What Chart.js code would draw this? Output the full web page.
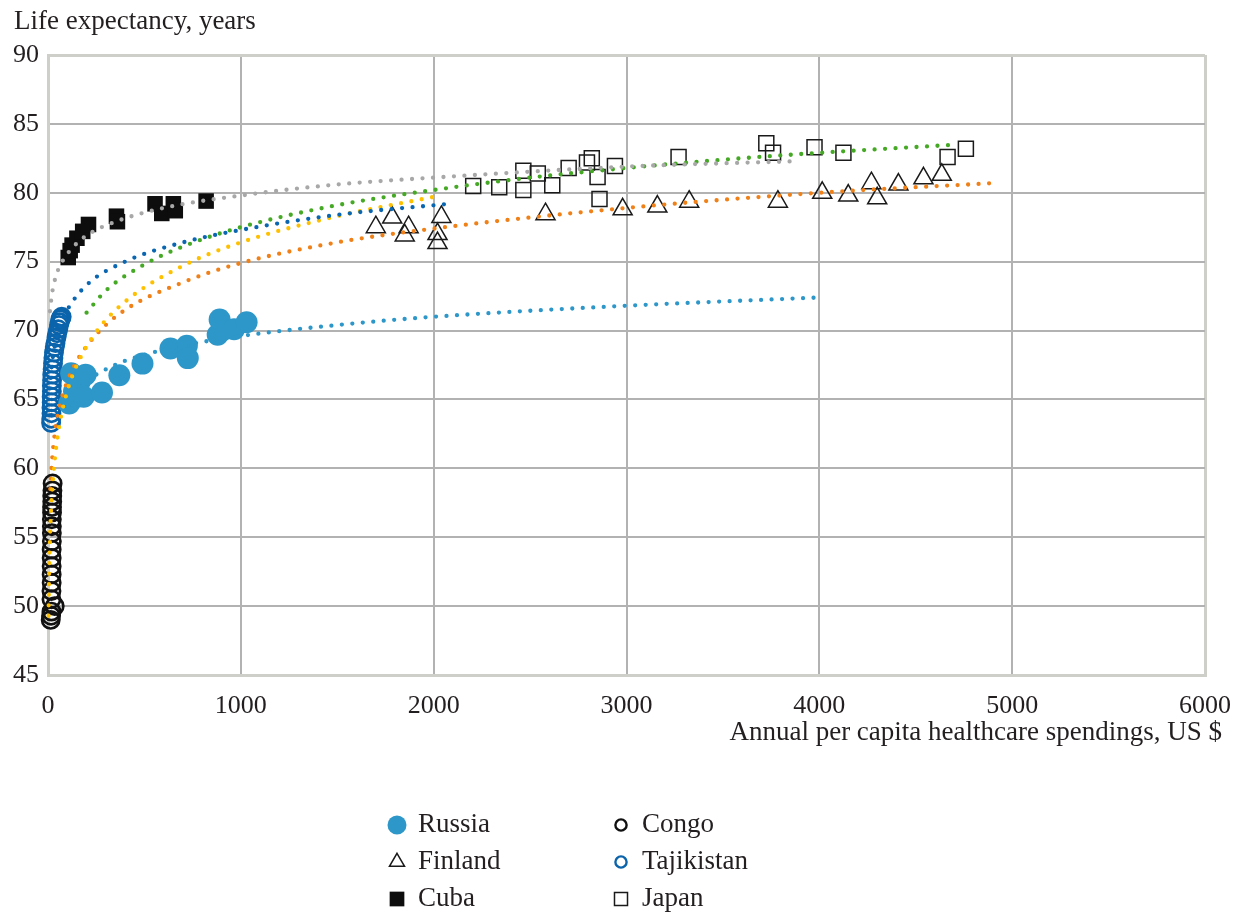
<!DOCTYPE html>
<html>
<head>
<meta charset="utf-8">
<script src="https://cdn.jsdelivr.net/npm/chart.js@4.4.0/dist/chart.umd.min.js"></script>
<style>
  html, body { margin: 0; padding: 0; background: #fff; }
  #wrap { width: 1238px; height: 912px; }
</style>
</head>
<body>
<div id="wrap"><canvas id="myChart"></canvas></div>
<script>
// ---- data ----
var countries = ['Russia', 'Finland', 'Cuba', 'Congo', 'Tajikistan', 'Japan'];

var russiaX = [110, 120, 135, 150, 165, 185, 195, 280, 370, 490, 635, 720, 725, 880, 890, 965, 1030];
var russiaY = [64.7, 66.9, 65.6, 65.2, 66.3, 65.2, 66.8, 65.5, 66.75, 67.6, 68.7, 68.9, 68.0, 69.7, 70.8, 70.1, 70.6];

var finlandX = [1700, 1785, 1850, 1870, 2020, 2020, 2040, 2580, 2980, 3160, 3325, 3785, 4015, 4150, 4270, 4300, 4410, 4540, 4635];
var finlandY = [77.5, 78.2, 76.9, 77.5, 77.0, 76.35, 78.25, 78.45, 78.8, 79.0, 79.35, 79.35, 80.0, 79.8, 80.7, 79.6, 80.6, 81.05, 81.3];

var cubaX = [105, 115, 125, 150, 180, 210, 355, 360, 555, 590, 650, 660, 820];
var cubaY = [75.3, 75.8, 76.2, 76.7, 77.2, 77.7, 78.3, 77.9, 79.2, 78.5, 79.2, 78.7, 79.4];

var congoX = [14, 16, 18, 35, 18, 18, 19, 19, 19, 19, 19, 20, 20, 20, 20, 21, 21, 22, 22, 23, 24];
var congoY = [49.0, 49.3, 49.6, 50.0, 50.5, 51.1, 51.7, 52.3, 52.9, 53.5, 54.1, 54.7, 55.3, 55.8, 56.3, 56.8, 57.2, 57.6, 58.0, 58.4, 58.9];

var tajikX = [16, 17, 18, 18, 19, 19, 20, 20, 21, 22, 24, 26, 28, 31, 35, 39, 44, 48, 53, 57, 61, 64, 67, 71];
var tajikY = [63.3, 63.6, 64.0, 64.4, 64.8, 65.2, 65.6, 66.0, 66.4, 66.8, 67.2, 67.6, 68.0, 68.4, 68.8, 69.1, 69.5, 69.8, 70.1, 70.4, 70.6, 70.8, 70.9, 71.0];

var japanX = [2205, 2340, 2465, 2465, 2540, 2615, 2700, 2795, 2820, 2850, 2860, 2940, 3270, 3725, 3760, 3975, 4125, 4665, 4760];
var japanY = [80.5, 80.4, 81.6, 80.2, 81.4, 80.55, 81.8, 82.2, 82.5, 81.15, 79.55, 81.95, 82.6, 83.6, 82.9, 83.3, 82.9, 82.6, 83.2];

// trend lines (dotted)
var russiaTrendX = [90, 150, 250, 400, 700, 1000, 1500, 2000, 3000, 4000];
var russiaTrendY = [64.8, 65.8, 66.8, 67.8, 68.9, 69.6, 70.4, 71.0, 71.8, 72.4];

var finlandTrendX = [12, 20, 35, 60, 100, 150, 250, 400, 700, 1000, 1500, 2000, 3000, 4000, 4900];
var finlandTrendY = [58.5, 60.4, 62.5, 64.5, 66.3, 67.8, 69.7, 71.5, 73.5, 74.9, 76.4, 77.4, 78.9, 80.0, 80.7];

var cubaTrendX = [10, 20, 40, 70, 120, 200, 350, 600, 1000, 1500, 2000, 3000, 3900];
var cubaTrendY = [71.4, 72.6, 73.9, 74.9, 75.9, 76.9, 77.9, 78.9, 79.8, 80.6, 81.1, 81.9, 82.3];

var congoTrendX = [3, 5, 8, 12, 20, 35, 60, 100, 150, 250, 400, 700, 1000, 1500, 2000];
var congoTrendY = [49.3, 51.7, 53.7, 55.6, 58.0, 60.6, 63.2, 65.6, 67.5, 69.9, 72.1, 74.7, 76.4, 78.3, 79.7];

var tajikTrendX = [10, 20, 40, 70, 100, 200, 400, 700, 1000, 1500, 2080];
var tajikTrendY = [65.8, 67.5, 69.2, 70.6, 71.5, 73.3, 75.0, 76.4, 77.3, 78.4, 79.2];

var japanTrendX = [200, 300, 500, 700, 1000, 1500, 2000, 2500, 3000, 3500, 4000, 4720];
var japanTrendY = [71.3, 72.9, 74.8, 76.1, 77.5, 79.1, 80.2, 81.1, 81.8, 82.4, 82.9, 83.5];

var xTicks = [0, 1000, 2000, 3000, 4000, 5000, 6000];
var yTicks = [45, 50, 55, 60, 65, 70, 75, 80, 85, 90];
var yTitle = 'Life expectancy, years';
var xTitle = 'Annual per capita healthcare spendings, US $';

// ---- helpers ----
function pts(xs, ys) {
    return xs.map(function (x, i) { return { x: x, y: ys[i] }; });
}

var serif = '"Liberation Serif", "Times New Roman", serif';
var textColor = '#231f20';

function trend(xs, ys, color) {
    return {
        type: 'line',
        data: pts(xs, ys),
        borderColor: color,
        borderWidth: 4.3,
        borderDash: [0, 10.5],
        borderCapStyle: 'round',
        pointRadius: 0,
        fill: false,
        clip: false,
        cubicInterpolationMode: 'monotone',
        order: 0
    };
}

var markers = [
    { label: countries[0], data: pts(russiaX, russiaY), pointStyle: 'circle', pointRadius: 11, backgroundColor: '#2e97c9', borderColor: '#2e97c9', borderWidth: 0, legendRadius: 9.5 },
    { label: countries[1], data: pts(finlandX, finlandY), pointStyle: 'triangle', pointRadius: 11, backgroundColor: 'rgba(0,0,0,0)', borderColor: '#1a1a1a', borderWidth: 1.5, legendRadius: 8.7 },
    { label: countries[2], data: pts(cubaX, cubaY), pointStyle: 'rect', pointRadius: 11, backgroundColor: '#0d0d0d', borderColor: '#0d0d0d', borderWidth: 0, legendRadius: 10.4 },
    { label: countries[3], data: pts(congoX, congoY), pointStyle: 'circle', pointRadius: 8.6, backgroundColor: 'rgba(0,0,0,0)', borderColor: '#111111', borderWidth: 2.7, legendRadius: 5.6 },
    { label: countries[4], data: pts(tajikX, tajikY), pointStyle: 'circle', pointRadius: 8.6, backgroundColor: 'rgba(0,0,0,0)', borderColor: '#0b64ab', borderWidth: 2.7, legendRadius: 5.6 },
    { label: countries[5], data: pts(japanX, japanY), pointStyle: 'rect', pointRadius: 10.6, backgroundColor: 'rgba(0,0,0,0)', borderColor: '#1a1a1a', borderWidth: 1.5, legendRadius: 9.2 }
];

var datasets = markers.map(function (m) {
    return {
        type: 'scatter',
        label: m.label,
        data: m.data,
        pointStyle: m.pointStyle,
        pointRadius: m.pointRadius,
        pointHoverRadius: m.pointRadius,
        backgroundColor: m.backgroundColor,
        borderColor: m.borderColor,
        borderWidth: m.borderWidth,
        clip: false,
        order: 1
    };
});

datasets.push(trend(cubaTrendX, cubaTrendY, '#a8a8a8'));
datasets.push(trend(tajikTrendX, tajikTrendY, '#0a66b0'));
datasets.push(trend(japanTrendX, japanTrendY, '#46a925'));
datasets.push(trend(congoTrendX, congoTrendY, '#ffc000'));
datasets.push(trend(finlandTrendX, finlandTrendY, '#f08018'));
datasets.push(trend(russiaTrendX, russiaTrendY, '#2e97c9'));

// titles and the two-column legend are painted on the canvas
var extras = {
    id: 'extras',
    afterDraw: function (chart) {
        var ctx = chart.ctx;
        ctx.save();
        ctx.fillStyle = textColor;
        ctx.font = '27px ' + serif;
        ctx.textBaseline = 'middle';
        ctx.textAlign = 'left';
        ctx.fillText(yTitle, 14, 22);
        ctx.textAlign = 'right';
        ctx.fillText(xTitle, 1222, 733);

        // legend: column-major, 3 rows
        var colX = [397, 621];
        var rowY = [825, 862, 899];
        ctx.textAlign = 'left';
        markers.forEach(function (m, i) {
            var cx = colX[Math.floor(i / 3)];
            var cy = rowY[i % 3];
            ctx.save();
            ctx.fillStyle = m.backgroundColor;
            ctx.strokeStyle = m.borderColor;
            ctx.lineWidth = m.borderWidth > 2 ? 2.4 : m.borderWidth;
            Chart.helpers.drawPoint(ctx, {
                pointStyle: m.pointStyle,
                radius: m.legendRadius,
                borderWidth: m.borderWidth,
                rotation: 0
            }, cx, cy);
            ctx.restore();
            ctx.fillStyle = textColor;
            ctx.fillText(m.label, cx + 21, cy);
        });
        ctx.restore();
    }
};

var gridEdge = '#cfcfca';
var gridMid = '#b2b2b2';

var ctx = document.getElementById('myChart').getContext('2d');
var chart = new Chart(ctx, {
    data: { datasets: datasets },
    plugins: [extras],
    options: {
        responsive: true,
        maintainAspectRatio: false,
        animation: false,
        layout: { padding: { left: 0, top: 55, right: 33, bottom: 0 } },
        plugins: {
            legend: { display: false },
            tooltip: { enabled: false }
        },
        scales: {
            x: {
                type: 'linear',
                min: 0,
                max: 6000,
                afterBuildTicks: function (s) { s.ticks = xTicks.map(function (v) { return { value: v }; }); },
                afterFit: function (s) { s.height = 237; s.paddingLeft = 0; s.paddingRight = 0; },
                ticks: {
                    color: textColor,
                    font: { family: serif, size: 26 },
                    padding: 16,
                    maxRotation: 0,
                    callback: function (v) { return String(v); }
                },
                grid: {
                    drawTicks: false,
                    color: function (c) { return (c.index === 0 || c.index === xTicks.length - 1) ? gridEdge : gridMid; },
                    lineWidth: function (c) { return (c.index === 0 || c.index === xTicks.length - 1) ? 3 : 2; }
                },
                border: { color: gridEdge, width: 3 }
            },
            y: {
                type: 'linear',
                min: 45,
                max: 90,
                afterBuildTicks: function (s) { s.ticks = yTicks.map(function (v) { return { value: v }; }); },
                afterFit: function (s) { s.width = 48; },
                ticks: {
                    color: textColor,
                    font: { family: serif, size: 26 },
                    padding: 9,
                    callback: function (v) { return String(v); }
                },
                grid: {
                    drawTicks: false,
                    color: function (c) { return (c.index === 0 || c.index === yTicks.length - 1) ? gridEdge : gridMid; },
                    lineWidth: function (c) { return (c.index === 0 || c.index === yTicks.length - 1) ? 3 : 2; }
                },
                border: { color: gridEdge, width: 3 }
            }
        }
    }
});
</script>
</body>
</html>
